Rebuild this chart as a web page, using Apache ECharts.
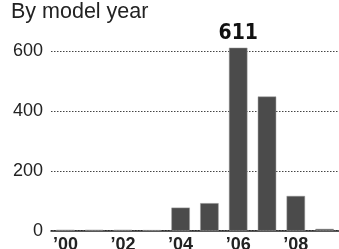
<!DOCTYPE html>
<html><head><meta charset="utf-8">
<script src="https://cdn.jsdelivr.net/npm/echarts@6/dist/echarts.min.js"></script>
<style>html,body{margin:0;padding:0;background:#fff}#c{width:339px;height:249px}</style>
</head><body><div id="c"></div>
<script>
const years = ['2000','2001','2002','2003','2004','2005','2006','2007','2008','2009'];
const yearLabels = ['\u201900','\u201901','\u201902','\u201903','\u201904','\u201905','\u201906','\u201907','\u201908','\u201909'];
const counts = [3, 3, 3, 2, 77, 92, 611, 448, 116, 6];
const yTicks = [0, 200, 400, 600];
const title = 'By model year';
const highlightIndex = 6;

const chart = echarts.init(document.getElementById('c'));
chart.setOption({
  animation: false,
  title: {
    text: title, left: 11, top: 1, padding: 0,
    textStyle: {fontFamily: 'Liberation Sans', fontSize: 21.5, fontWeight: 'normal', color: '#222'}
  },
  grid: {left: 51, right: 0, top: 51, bottom: 18.3, containLabel: false, outerBoundsMode: 'none'},
  xAxis: {
    type: 'category', data: years,
    axisLine: {show: true, lineStyle: {color: '#222', width: 1.5}},
    axisTick: {show: false},
    axisLabel: {
      interval: 1, margin: 5,
      formatter: (v, i) => yearLabels[i],
      fontFamily: 'Liberation Sans', fontSize: 18, fontWeight: 'bold', color: '#222'
    }
  },
  yAxis: {
    type: 'value', min: yTicks[0], max: yTicks[yTicks.length-1], interval: 200,
    axisLine: {show: false}, axisTick: {show: false},
    axisLabel: {margin: 8, fontFamily: 'Liberation Sans', fontSize: 18, color: '#222'},
    splitLine: {show: true, lineStyle: {type: [1.5, 1.5], color: '#444', width: 1}}
  },
  series: [{
    type: 'bar', clip: false, barCategoryGap: '36%',
    itemStyle: {color: '#4b4b4b', borderColor: '#9a9a9a', borderWidth: 0.5},
    data: counts.map((v, i) => i === highlightIndex ? {
      value: v,
      label: {show: true, position: 'top', distance: 4, formatter: String(v),
        fontFamily: 'DejaVu Sans Condensed, Liberation Sans', fontWeight: 'bold', fontSize: 21, color: '#111'}
    } : v)
  }]
});
</script></body></html>
